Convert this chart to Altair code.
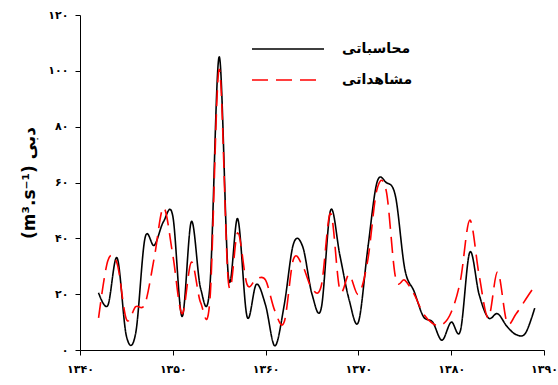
import altair as alt
import pandas as pd

years = list(range(1342, 1390))
computed = [20.5, 16, 33, 5, 6, 40, 37.5, 46, 48, 12,
            46, 22, 23, 105, 26, 47, 12, 23.5, 16, 1.5,
            16, 38, 37, 20, 15, 50, 34, 18, 10, 36,
            60, 60, 55, 29, 21, 12, 10, 3.5, 10, 7,
            35, 20, 11.5, 13, 8.5, 5.5, 6, 15]
observed = [11.5, 32, 31, 11, 15.5, 16.5, 33, 51, 34, 13,
            31.5, 17, 18, 100.5, 24, 42, 23.5, 25.5, 25, 14,
            10, 32.5, 30, 22, 23, 49, 21.5, 27, 20, 32,
            57.5, 57, 26, 25, 20, 13, 9.5, 9, 13.5, 25,
            46.5, 27, 11.5, 28, 10, 13, 18, 23]

series_names = ["محاسباتی", "مشاهداتی"]
series_colors = ["#000000", "#ff0000"]
series_dash = [[1, 0], [16, 8]]

x_ticks = [1340, 1350, 1360, 1370, 1380, 1390]
x_tick_labels = ["۱۳۴۰", "۱۳۵۰", "۱۳۶۰", "۱۳۷۰", "۱۳۸۰", "۱۳۹۰"]
y_ticks = [0, 20, 40, 60, 80, 100, 120]
y_tick_labels = ["۰", "۲۰", "۴۰", "۶۰", "۸۰", "۱۰۰", "۱۲۰"]
y_title = "(m³.s⁻¹)   دبی"

rows = []
for y, c, o in zip(years, computed, observed):
    rows.append({"year": y, "value": c, "series": series_names[0]})
    rows.append({"year": y, "value": o, "series": series_names[1]})
df = pd.DataFrame(rows)


def label_expr(values, labels):
    expr = "''"
    for v, l in reversed(list(zip(values, labels))):
        expr = f"datum.value == {v} ? '{l}' : ({expr})"
    return expr


FONT = "DejaVu Sans"

chart = alt.Chart(df).mark_line(interpolate="cardinal", strokeWidth=1.6).encode(
    x=alt.X("year:Q", scale=alt.Scale(domain=[1340, 1390], nice=False, zero=False),
            axis=alt.Axis(values=x_ticks, labelExpr=label_expr(x_ticks, x_tick_labels),
                          title=None, grid=False, tickSize=5, labelPadding=8,
                          labelFontSize=11, labelFontWeight="bold", labelFont=FONT,
                          domainColor="#000", tickColor="#000", labelColor="#000",
                          labelFlush=False)),
    y=alt.Y("value:Q", scale=alt.Scale(domain=[0, 120], nice=False),
            axis=alt.Axis(values=y_ticks, labelExpr=label_expr(y_ticks, y_tick_labels),
                          title=y_title, grid=False, tickSize=5, labelPadding=7,
                          labelFontSize=11, labelFontWeight="bold", labelFont=FONT,
                          titleFont=FONT, titleFontSize=17, titleFontWeight="bold",
                          titlePadding=9, domainColor="#000", tickColor="#000",
                          labelColor="#000", titleColor="#000")),
    color=alt.Color("series:N",
                    scale=alt.Scale(domain=series_names, range=series_colors),
                    legend=alt.Legend(title=None, orient="none", legendX=171, legendY=24,
                                      symbolType="stroke", symbolSize=5184,
                                      symbolStrokeWidth=1.6, labelFont=FONT,
                                      labelFontSize=14, labelFontWeight="bold",
                                      labelOffset=17, clipHeight=20, rowPadding=11,
                                      labelColor="#000")),
    strokeDash=alt.StrokeDash("series:N",
                              scale=alt.Scale(domain=series_names, range=series_dash),
                              legend=None),
).properties(
    width=464, height=335,
    autosize=alt.AutoSizeParams(type="none"),
    padding={"left": 80, "top": 15, "right": 14, "bottom": 35},
).configure_view(stroke=None)

chart.save("out.html", embed_options={"renderer": "svg", "actions": False})
